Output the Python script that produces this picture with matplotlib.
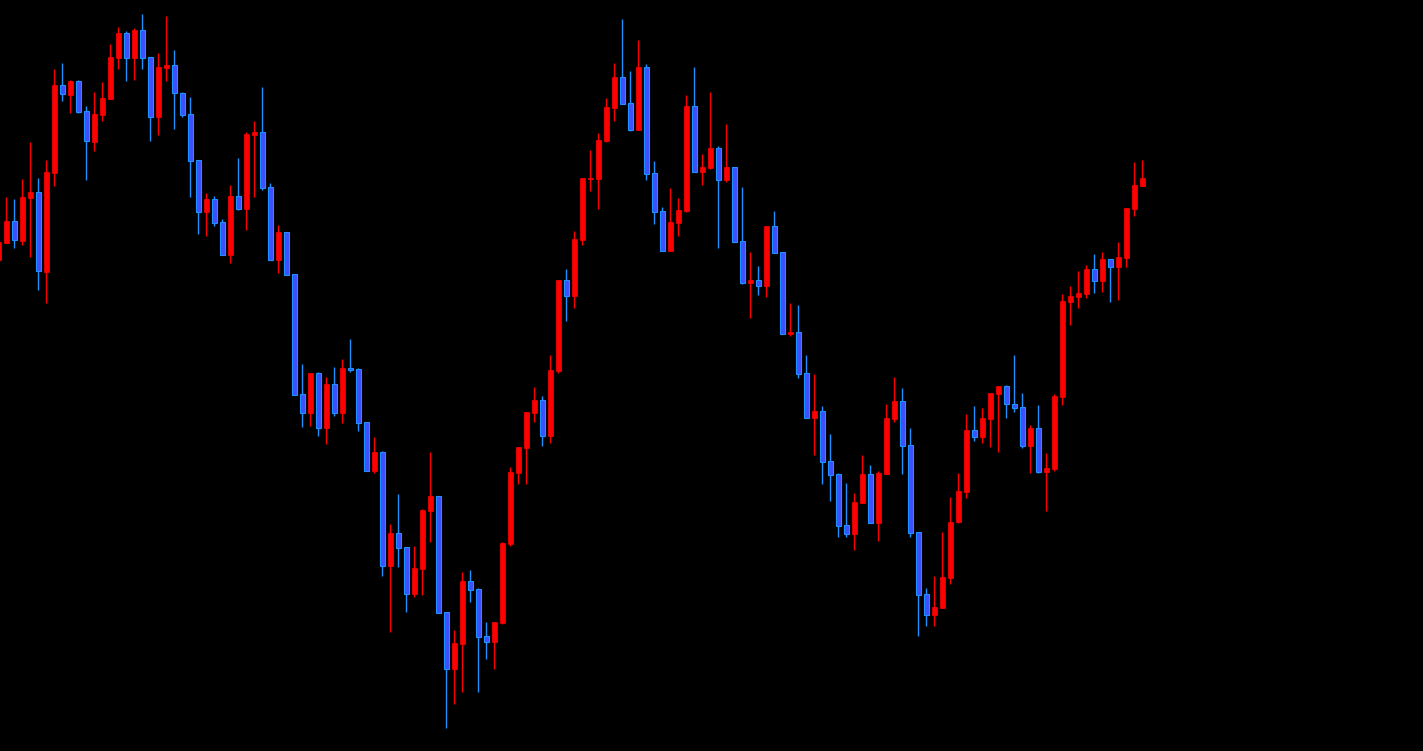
import matplotlib
matplotlib.use("Agg")
import matplotlib.pyplot as plt
import numpy as np

# OHLC prices, oldest first (first candle is cut by the left edge)
opens = [740, 757, 779, 759, 802, 808, 728, 827, 915, 905, 919, 889, 858, 885, 901, 942, 967, 942, 970, 943,
         883, 932, 935, 907, 886, 840, 788, 801, 778, 745, 804, 791, 865, 868, 813, 740, 768, 726, 606, 587,
         627, 572, 616, 587, 632, 631, 578, 529, 548, 434, 467, 453, 406, 431, 489, 504, 388, 331, 356, 419,
         411, 364, 358, 377, 456, 527, 552, 587, 600, 564, 629, 720, 704, 760, 821, 821, 859, 892, 923, 897,
         870, 933, 827, 789, 749, 777, 789, 894, 828, 832, 852, 820, 833, 759, 717, 720, 714, 774, 748, 666,
         668, 627, 582, 589, 539, 526, 475, 466, 497, 526, 477, 526, 581, 599, 555, 468, 406, 385, 392, 422,
         478, 508, 570, 563, 581, 606, 614, 596, 593, 554, 572, 528, 531, 603, 698, 703, 706, 731, 719, 741,
         733, 742, 791, 814]
highs = [762, 803, 801, 821, 858, 822, 840, 931, 937, 920, 920, 894, 908, 918, 956, 973, 969, 972, 986, 943,
         947, 984, 950, 908, 903, 840, 807, 804, 781, 815, 842, 868, 879, 913, 817, 775, 768, 726, 636, 627,
         628, 623, 633, 641, 661, 632, 578, 563, 549, 476, 506, 453, 454, 491, 548, 504, 388, 370, 428, 430,
         412, 378, 378, 458, 533, 553, 588, 613, 604, 645, 720, 731, 769, 822, 850, 867, 902, 937, 981, 929,
         960, 936, 839, 793, 812, 802, 905, 933, 846, 908, 854, 876, 833, 813, 748, 734, 774, 789, 748, 697,
         695, 645, 626, 594, 566, 527, 517, 507, 545, 535, 529, 596, 623, 612, 572, 468, 412, 424, 468, 503,
         527, 586, 594, 592, 607, 614, 615, 645, 607, 575, 595, 547, 606, 706, 714, 729, 735, 746, 748, 741,
         758, 792, 838, 840]
lows = [738, 757, 752, 755, 743, 710, 697, 814, 899, 887, 887, 820, 849, 879, 901, 931, 919, 920, 931, 859,
        865, 919, 871, 883, 803, 766, 764, 774, 745, 737, 790, 770, 803, 810, 740, 727, 725, 605, 573, 574,
        564, 556, 584, 577, 628, 569, 529, 527, 424, 368, 433, 388, 403, 405, 458, 387, 272, 296, 308, 398,
        308, 341, 331, 376, 454, 516, 516, 578, 554, 557, 627, 679, 692, 755, 809, 791, 858, 879, 896, 869,
        870, 820, 776, 749, 749, 764, 788, 828, 815, 831, 752, 818, 758, 716, 682, 705, 703, 747, 666, 664,
        622, 582, 545, 516, 499, 463, 463, 450, 497, 477, 459, 526, 578, 526, 463, 364, 374, 374, 392, 416,
        477, 502, 559, 557, 553, 548, 582, 588, 552, 527, 527, 489, 529, 595, 675, 692, 702, 707, 708, 698,
        700, 733, 784, 814]
closes = [758, 779, 760, 803, 808, 729, 828, 915, 906, 919, 888, 859, 886, 902, 943, 967, 942, 970, 942, 883,
          933, 935, 907, 885, 839, 788, 801, 777, 745, 804, 791, 866, 868, 812, 740, 768, 725, 605, 587, 627,
          572, 616, 587, 632, 630, 577, 529, 548, 434, 467, 452, 406, 432, 490, 504, 387, 331, 357, 419, 410,
          363, 358, 378, 457, 528, 553, 588, 600, 564, 630, 720, 704, 761, 822, 822, 860, 893, 923, 896, 870,
          933, 826, 788, 749, 778, 790, 894, 828, 833, 852, 820, 833, 758, 717, 720, 714, 774, 747, 666, 668,
          626, 582, 589, 538, 525, 474, 466, 498, 526, 477, 527, 582, 599, 554, 467, 405, 385, 393, 423, 478,
          509, 570, 563, 582, 607, 614, 596, 592, 554, 572, 528, 532, 604, 699, 704, 707, 731, 719, 741, 733,
          743, 792, 815, 822]

o = np.array(opens, dtype=float)
h = np.array(highs, dtype=float)
l = np.array(lows, dtype=float)
c = np.array(closes, dtype=float)
x = np.arange(len(o))
up = c >= o

bull_col = '#ff0000'
bear_fill = '#3d4fff'
bear_edge = '#1e90ff'

fig = plt.figure(figsize=(14.23, 7.51), dpi=100, facecolor='black')
ax = fig.add_axes([0, 0, 1, 1])
ax.set_facecolor('black')

# wicks
ax.vlines(x[up], l[up], h[up], color=bull_col, linewidth=1.0, zorder=1)
ax.vlines(x[~up], l[~up], h[~up], color=bear_edge, linewidth=1.0, zorder=1)

# bodies
bottom = np.minimum(o, c)
height = np.maximum(np.abs(c - o), 1.0)
ax.bar(x[up], height[up], bottom=bottom[up], width=0.6, color=bull_col,
       edgecolor=bull_col, linewidth=0.5, zorder=2)
ax.bar(x[~up], height[~up], bottom=bottom[~up], width=0.6, color=bear_fill,
       edgecolor=bear_edge, linewidth=0.8, zorder=2)

ax.set_xlim(0.21, 178.09)
ax.set_ylim(249, 1000)
ax.axis('off')

fig.savefig('out.png', dpi=100, facecolor='black')
